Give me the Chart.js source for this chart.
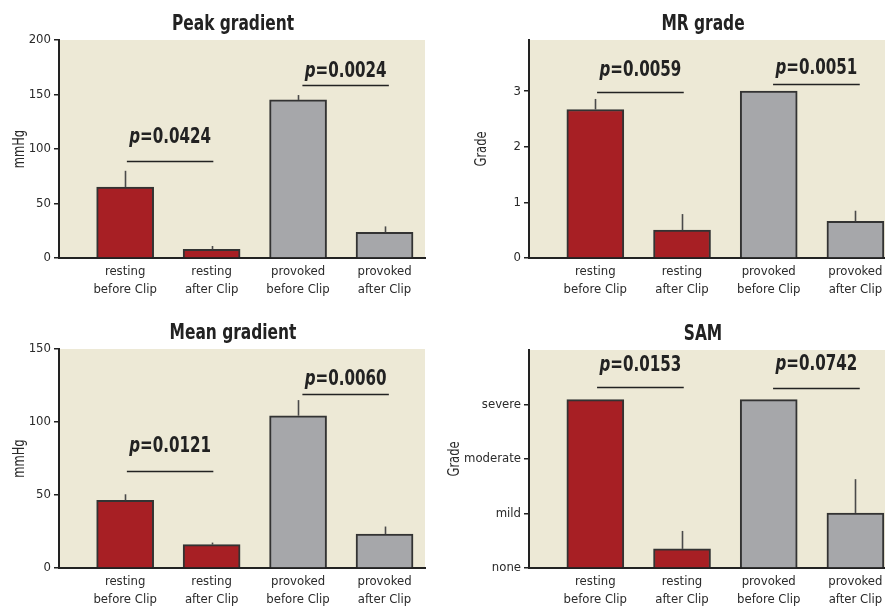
<!DOCTYPE html>
<html>
<head>
<meta charset="utf-8">
<script src="https://cdn.jsdelivr.net/npm/chart.js@4.4.1/dist/chart.umd.min.js"></script>
<style>
  html, body { margin: 0; padding: 0; background: #ffffff; width: 885px; height: 609px; overflow: hidden; position: relative; }
  canvas { position: absolute; }
</style>
</head>
<body>
<canvas id="c1" width="440" height="305" style="left:0;top:0;width:440px;height:305px"></canvas>
<canvas id="c2" width="451" height="305" style="left:445px;top:0;width:451px;height:305px"></canvas>
<canvas id="c3" width="440" height="304" style="left:0;top:305px;width:440px;height:304px"></canvas>
<canvas id="c4" width="451" height="304" style="left:445px;top:305px;width:451px;height:304px"></canvas>
<script>
// ---------------- DATA ----------------
const categories = [["resting", "before Clip"], ["resting", "after Clip"], ["provoked", "before Clip"], ["provoked", "after Clip"]];

const peakMeans  = [65, 8, 145, 23.5];
const peakErrors = [15, 3, 4.5, 5.5];
const peakTicks  = [0, 50, 100, 150, 200];
const peakP      = ["0.0424", "0.0024"];
const peakPLevel = [88.7, 159];

const mrMeans  = [2.67, 0.5, 3.0, 0.66];
const mrErrors = [0.19, 0.29, 0, 0.19];
const mrTicks  = [0, 1, 2, 3];
const mrP      = ["0.0059", "0.0051"];
const mrPLevel = [2.98, 3.12];

const meanMeans  = [46.4, 16, 104.3, 23.3];
const meanErrors = [4.1, 1.4, 10.7, 5.1];
const meanTicks  = [0, 50, 100, 150];
const meanP      = ["0.0121", "0.0060"];
const meanPLevel = [66.5, 119];

const samMeans      = [3.09, 0.35, 3.09, 1.01];
const samErrors     = [0, 0.33, 0, 0.62];
const samTicks      = [0, 1, 2, 3];
const samTickLabels = ["none", "mild", "moderate", "severe"];
const samP          = ["0.0153", "0.0742"];
const samPLevel     = [3.33, 3.30];

const sigSpans = [[1.02, 2.02], [3.05, 4.05]];

// ---------------- STYLE ----------------
const FONT = '"DejaVu Sans Condensed", "Liberation Sans Narrow", sans-serif';
const RED = '#a71f24', GRAY = '#a6a7aa', BORDER = '#333333', BG = '#ede9d6', INK = '#222222';
Chart.defaults.font.family = FONT;
Chart.defaults.color = '#2a2a2a';

// draws text horizontally compressed (condensed look)
function squeezeText(ctx, text, x, y, sx) {
  ctx.save();
  ctx.translate(x, y);
  ctx.scale(sx, 1);
  ctx.fillText(text, 0, 0);
  ctx.restore();
}

const panelPlugin = {
  id: 'panel',
  beforeDraw(chart, args, opts) {
    const {ctx, chartArea: a} = chart;
    ctx.save();
    ctx.fillStyle = BG;
    ctx.fillRect(a.left, a.top, a.right - a.left, a.bottom - a.top);
    ctx.restore();
  },
  afterDatasetsDraw(chart, args, opts) {
    const {ctx, scales: {x, y}} = chart;
    ctx.save();
    ctx.strokeStyle = '#4a4a4a';
    ctx.lineWidth = 1.6;
    opts.means.forEach((m, i) => {
      const e = opts.errors[i];
      if (!e) return;
      const px = Math.round(x.getPixelForValue(i + 1)) + 0.5;
      ctx.beginPath();
      ctx.moveTo(px, y.getPixelForValue(m));
      ctx.lineTo(px, y.getPixelForValue(m + e));
      ctx.stroke();
    });
    ctx.restore();
  },
  afterDraw(chart, args, opts) {
    const {ctx, chartArea: a, scales: {x, y}} = chart;
    ctx.save();
    // title
    ctx.fillStyle = INK;
    ctx.font = 'bold 22px ' + FONT;
    ctx.textAlign = 'center';
    ctx.textBaseline = 'middle';
    squeezeText(ctx, opts.title, a.left + 174, a.top - 16, 0.78);
    // y title
    ctx.save();
    ctx.font = '15px ' + FONT;
    ctx.fillStyle = '#2a2a2a';
    ctx.translate(opts.yTitleX, (a.top + a.bottom) / 2);
    ctx.rotate(-Math.PI / 2);
    squeezeText(ctx, opts.yTitle, 0, 0, 0.85);
    ctx.restore();
    // significance brackets
    const SX = 0.8;
    opts.pTexts.forEach((t, k) => {
      const x1 = x.getPixelForValue(sigSpans[k][0]);
      const x2 = x.getPixelForValue(sigSpans[k][1]);
      const ly = Math.round(y.getPixelForValue(opts.pLevels[k])) + 0.5;
      ctx.strokeStyle = INK;
      ctx.lineWidth = 1.5;
      ctx.beginPath();
      ctx.moveTo(x1, ly);
      ctx.lineTo(x2, ly);
      ctx.stroke();
      const ty = ly - opts.textOffsets[k];
      ctx.font = 'italic bold 21px ' + FONT;
      const wp = ctx.measureText('p').width * SX;
      ctx.font = 'bold 21px ' + FONT;
      const rest = '=' + t;
      const wr = ctx.measureText(rest).width * SX;
      const cx = (x1 + x2) / 2;
      const sx = cx - (wp + wr) / 2;
      ctx.textAlign = 'left';
      ctx.textBaseline = 'middle';
      ctx.fillStyle = INK;
      ctx.font = 'italic bold 21px ' + FONT;
      squeezeText(ctx, 'p', sx, ty, SX);
      ctx.font = 'bold 21px ' + FONT;
      squeezeText(ctx, rest, sx + wp, ty, SX);
    });
    ctx.restore();
  }
};

function makeChart(id, cfg) {
  const data = cfg.means.map((v, i) => ({x: i + 1, y: v}));
  return new Chart(document.getElementById(id), {
    type: 'bar',
    data: {
      datasets: [{
        data: data,
        backgroundColor: [RED, RED, GRAY, GRAY],
        borderColor: BORDER,
        borderWidth: 2,
        barThickness: 57
      }]
    },
    options: {
      responsive: false,
      animation: false,
      devicePixelRatio: 1,
      layout: {padding: {top: cfg.top, left: 0, right: cfg.right, bottom: 0}},
      plugins: {
        legend: {display: false},
        tooltip: {enabled: false},
        panel: {
          title: cfg.title, yTitle: cfg.yTitle, yTitleX: cfg.yTitleX,
          means: cfg.means, errors: cfg.errors,
          pTexts: cfg.pTexts, pLevels: cfg.pLevels, textOffsets: cfg.textOffsets
        }
      },
      scales: {
        x: {
          type: 'linear',
          offset: false,
          min: 0.235, max: 4.468,
          afterBuildTicks: s => { s.ticks = [1, 2, 3, 4].map(v => ({value: v})); },
          afterFit: s => { s.height = cfg.xHeight; },
          grid: {display: false, drawTicks: false},
          border: {display: true, color: INK, width: 2},
          ticks: {
            autoSkip: false, maxRotation: 0, padding: 5,
            font: {size: 13, lineHeight: 1.38},
            color: '#2a2a2a',
            callback: v => categories[v - 1]
          }
        },
        y: {
          type: 'linear',
          min: 0, max: cfg.yMax,
          afterBuildTicks: s => { s.ticks = cfg.ticks.map(v => ({value: v})); },
          afterFit: s => { s.width = cfg.yWidth; },
          grid: {drawOnChartArea: false, drawTicks: true, tickLength: 5, color: INK, lineWidth: 1.5},
          border: {display: true, color: INK, width: 2},
          ticks: {
            padding: 3,
            font: {size: 13},
            color: '#2a2a2a',
            callback: cfg.tickLabels ? (v => cfg.tickLabels[cfg.ticks.indexOf(v)]) : (v => String(v))
          }
        }
      }
    },
    plugins: [panelPlugin]
  });
}

makeChart('c1', {
  title: 'Peak gradient', yTitle: 'mmHg', yTitleX: 20,
  means: peakMeans, errors: peakErrors, ticks: peakTicks, yMax: 200,
  pTexts: peakP, pLevels: peakPLevel, textOffsets: [24, 14],
  top: 40, right: 15, xHeight: 47, yWidth: 59
});
makeChart('c2', {
  title: 'MR grade', yTitle: 'Grade', yTitleX: 37,
  means: mrMeans, errors: mrErrors, ticks: mrTicks, yMax: 3.92,
  pTexts: mrP, pLevels: mrPLevel, textOffsets: [22, 16],
  top: 40, right: 0, xHeight: 47, yWidth: 84
});
makeChart('c3', {
  title: 'Mean gradient', yTitle: 'mmHg', yTitleX: 20,
  means: meanMeans, errors: meanErrors, ticks: meanTicks, yMax: 150,
  pTexts: meanP, pLevels: meanPLevel, textOffsets: [25, 15],
  top: 44, right: 15, xHeight: 41, yWidth: 59
});
makeChart('c4', {
  title: 'SAM', yTitle: 'Grade', yTitleX: 10,
  means: samMeans, errors: samErrors, ticks: samTicks, tickLabels: samTickLabels, yMax: 4,
  pTexts: samP, pLevels: samPLevel, textOffsets: [22, 24],
  top: 45, right: 0, xHeight: 41, yWidth: 84
});
</script>
</body>
</html>
